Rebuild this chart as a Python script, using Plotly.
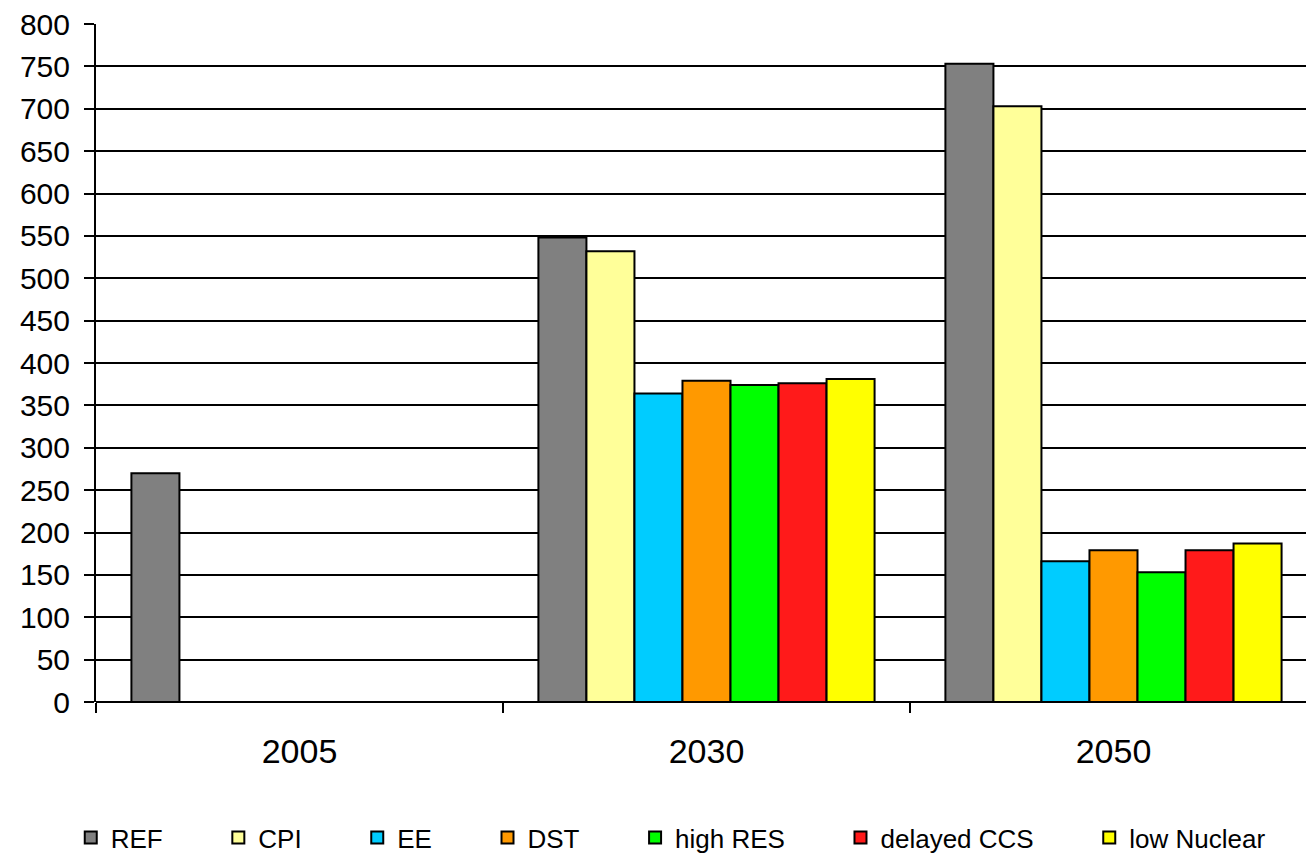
import plotly.graph_objects as go

years = ["2005", "2030", "2050"]
series_names = ["REF", "CPI", "EE", "DST", "high RES", "delayed CCS", "low Nuclear"]
ref_vals = [270, 548, 753]
cpi_vals = [None, 532, 703]
ee_vals = [None, 364, 166]
dst_vals = [None, 379, 179]
highres_vals = [None, 374, 153]
delayedccs_vals = [None, 376, 179]
lownuclear_vals = [None, 381, 187]
colors = ["#808080", "#FFFF99", "#00CCFF", "#FF9900", "#00FF00", "#FF1A1A", "#FFFF00"]
y_ticks = list(range(0, 801, 50))

all_vals = [ref_vals, cpi_vals, ee_vals, dst_vals, highres_vals, delayedccs_vals, lownuclear_vals]

PAD = "\u00a0" * 7

fig = go.Figure()
for i, (name, vals, col) in enumerate(zip(series_names, all_vals, colors)):
    label = name + (PAD if i < len(series_names) - 1 else "")
    fig.add_trace(go.Bar(
        x=years, y=vals, name=label,
        marker=dict(color=col, line=dict(color="black", width=2)),
    ))

fig.update_layout(
    width=1306, height=854,
    margin=dict(l=96, r=0, t=24, b=152, autoexpand=False),
    paper_bgcolor="white", plot_bgcolor="white",
    barmode="group", bargap=0.174, bargroupgap=0,
    font=dict(family="Liberation Sans, Arial, sans-serif", color="black"),
    showlegend=True,
    legend=dict(
        orientation="h", x=0.475, xanchor="center", y=-0.2, yanchor="middle",
        font=dict(size=26),
    ),
    xaxis=dict(
        type="category", range=[-0.5, 2.473], automargin=False,
        tickson="boundaries", ticks="outside", ticklen=10, tickwidth=2, tickcolor="black",
        showline=False, showgrid=False,
        tickfont=dict(size=34), ticklabelstandoff=26,
    ),
    yaxis=dict(
        range=[0, 800], tickvals=y_ticks, automargin=False,
        showgrid=True, gridcolor="black", gridwidth=2,
        showline=True, linecolor="black", linewidth=2,
        ticks="outside", ticklen=10, tickwidth=2, tickcolor="black",
        tickfont=dict(size=30), ticklabelstandoff=8,
        zeroline=True, zerolinecolor="black", zerolinewidth=2,
    ),
)

fig.write_html("out.html")
